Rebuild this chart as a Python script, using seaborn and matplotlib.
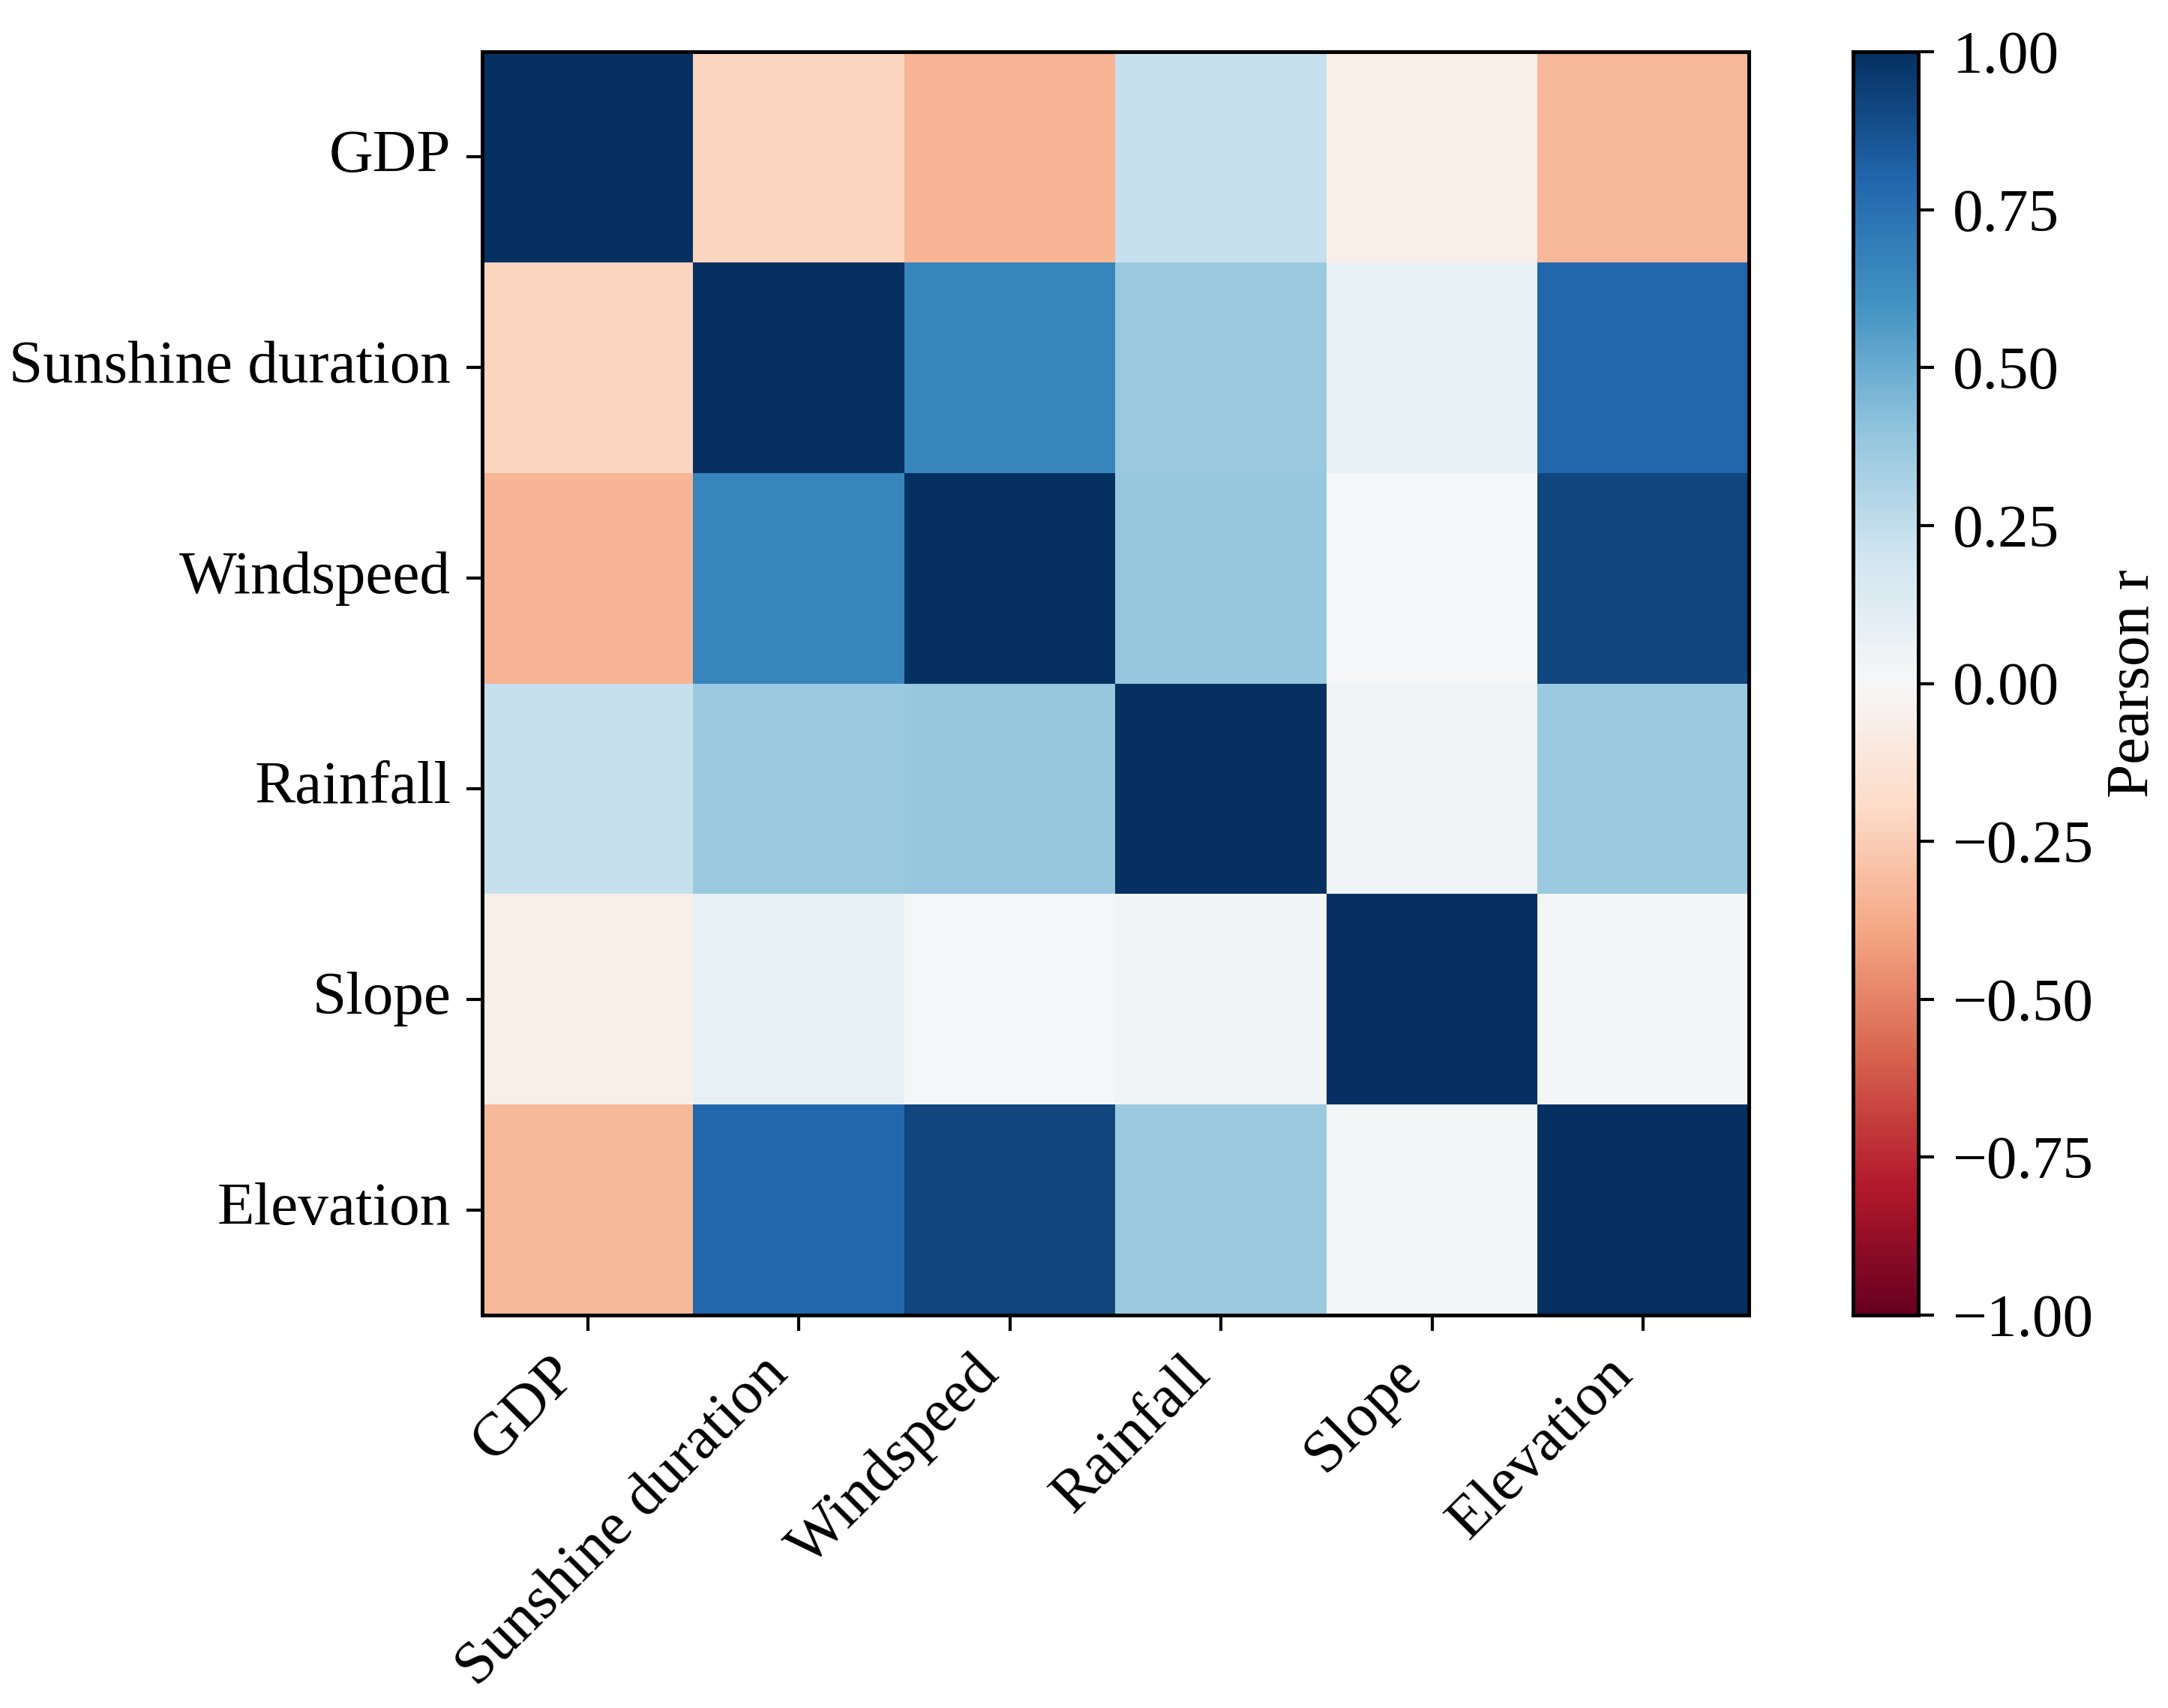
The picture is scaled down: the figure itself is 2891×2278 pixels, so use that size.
import numpy as np
import pandas as pd
import seaborn as sns
import matplotlib.pyplot as plt

# Variables and Pearson correlations
variables = ["GDP", "Sunshine duration", "Windspeed", "Rainfall", "Slope", "Elevation"]
r_gdp = [1.00, -0.22, -0.34, 0.23, -0.06, -0.33]
r_sunshine = [-0.22, 1.00, 0.66, 0.37, 0.085, 0.79]
r_windspeed = [-0.34, 0.66, 1.00, 0.39, 0.01, 0.92]
r_rainfall = [0.23, 0.37, 0.39, 1.00, 0.037, 0.37]
r_slope = [-0.06, 0.085, 0.01, 0.037, 1.00, 0.02]
r_elevation = [-0.33, 0.79, 0.92, 0.37, 0.02, 1.00]
cbar_ticks = [-1.0, -0.75, -0.5, -0.25, 0.0, 0.25, 0.5, 0.75, 1.0]

corr = pd.DataFrame([r_gdp, r_sunshine, r_windspeed, r_rainfall, r_slope, r_elevation],
                    index=variables, columns=variables)

sns.set_style("ticks")
plt.rcParams['font.family'] = ['Liberation Serif', 'DejaVu Serif']
plt.rcParams['axes.unicode_minus'] = True
plt.rcParams['text.color'] = 'black'
plt.rcParams['xtick.color'] = 'black'
plt.rcParams['ytick.color'] = 'black'
plt.rcParams['axes.labelcolor'] = 'black'
fs = 19.5

fig = plt.figure(figsize=(2891 / 300, 2278 / 300), dpi=300)
ax = fig.add_axes([643 / 2891, 1 - 1754 / 2278, 1689 / 2891, 1685 / 2278])
cax = fig.add_axes([2471 / 2891, 1 - 1754 / 2278, 87 / 2891, 1685 / 2278])

sns.heatmap(corr, ax=ax, cbar_ax=cax, cmap="RdBu", vmin=-1, vmax=1,
            cbar_kws={"ticks": cbar_ticks})

# Spines back on (heatmap removes them)
for side in ["top", "bottom", "left", "right"]:
    ax.spines[side].set_visible(True)
    ax.spines[side].set_linewidth(1.2)
    ax.spines[side].set_color("black")

ax.set_xticklabels(variables, rotation=45, ha="right", fontsize=fs, color="black")
ax.set_yticklabels(variables, rotation=0, fontsize=fs, color="black")
ax.tick_params(axis="both", length=5, width=1.0, color="black", pad=5)
ax.set_xlabel("")
ax.set_ylabel("")

cbar = ax.collections[0].colorbar
cbar.outline.set_linewidth(1.2)
cbar.outline.set_edgecolor("black")
cbar.ax.set_yticklabels([f"{t:.2f}".replace("-", "\u2212") for t in cbar_ticks], color="black")
cbar.ax.tick_params(labelsize=fs, length=5, width=1.0, color="black", pad=6)
cbar.set_label("Pearson r", fontsize=fs, labelpad=4, color="black")

fig.savefig("out.png", dpi=300)
